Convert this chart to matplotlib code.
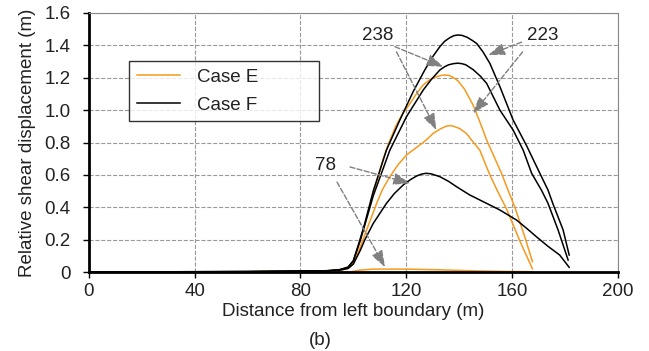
import matplotlib
matplotlib.use('Agg')
import matplotlib.pyplot as plt

plt.rcParams['font.family'] = ['Liberation Sans', 'DejaVu Sans']

# case E (orange) curves
e1_x = [0, 60, 90, 95, 98, 100, 102.5, 104.3, 107.5, 111.3, 113, 116, 118.5, 121.4, 124, 126.4, 129, 131.4, 133, 134.6, 136, 137.5, 139.6, 142, 145.3, 148, 150.4, 153, 156, 158.5, 161, 164.8, 167.7]
e1_y = [0, 0.002, 0.006, 0.012, 0.025, 0.06, 0.19, 0.29, 0.48, 0.7, 0.78, 0.9, 0.975, 1.04, 1.105, 1.155, 1.19, 1.206, 1.214, 1.217, 1.215, 1.205, 1.18, 1.13, 1.03, 0.92, 0.815, 0.72, 0.61, 0.505, 0.403, 0.218, 0.064]
e2_x = [0, 60, 90, 95, 98, 100, 102.5, 105, 108.8, 111, 113.8, 117, 120.1, 123.9, 126.4, 128.5, 130.2, 133, 135, 136.5, 138, 140.3, 142.8, 144.7, 147.8, 151.6, 154.8, 157.9, 163, 167.7]
e2_y = [0, 0.002, 0.006, 0.012, 0.022, 0.05, 0.15, 0.26, 0.424, 0.51, 0.589, 0.665, 0.723, 0.77, 0.8, 0.83, 0.857, 0.885, 0.9, 0.905, 0.9, 0.885, 0.855, 0.815, 0.753, 0.6, 0.49, 0.39, 0.19, 0.02]
e3_x = [0, 98.7, 100.5, 102.5, 107.5, 120, 132, 144, 156, 167.7]
e3_y = [0, 0, 0.006, 0.012, 0.018, 0.018, 0.014, 0.008, 0.004, 0.002]

# case F (black) curves
f1_x = [0, 60, 90, 95, 98, 100, 102.5, 104.3, 107.5, 112.5, 117.6, 122.6, 127, 130, 132.7, 134.5, 136.5, 138, 139.5, 141, 143, 145, 146.6, 149, 151.6, 155.4, 160.4, 165.5, 170.5, 173.6, 175.4, 179.3, 181.6]
f1_y = [0, 0.003, 0.008, 0.015, 0.03, 0.07, 0.2, 0.3, 0.5, 0.753, 0.94, 1.114, 1.248, 1.33, 1.392, 1.425, 1.448, 1.46, 1.464, 1.462, 1.45, 1.43, 1.412, 1.36, 1.289, 1.145, 0.939, 0.78, 0.61, 0.506, 0.424, 0.26, 0.105]
f2_x = [0, 60, 90, 95, 98, 100, 102.5, 104.3, 107.5, 113.8, 120.1, 126.4, 129.5, 132.7, 134.5, 136, 137.8, 139.5, 141, 142.5, 145.3, 148, 150.4, 155.4, 160.4, 164.2, 167.4, 171.1, 173.6, 177.4, 181.2]
f2_y = [0, 0.003, 0.008, 0.015, 0.03, 0.07, 0.19, 0.29, 0.47, 0.753, 0.96, 1.124, 1.19, 1.248, 1.268, 1.28, 1.287, 1.29, 1.287, 1.28, 1.25, 1.21, 1.165, 1.0, 0.877, 0.753, 0.61, 0.506, 0.424, 0.26, 0.074]
f3_x = [0, 60, 90, 95, 98, 100, 102.5, 104.3, 107.5, 112.5, 115.5, 118.8, 121.5, 123.9, 125.8, 127.6, 129.5, 132.7, 136, 139, 144, 147.8, 151.5, 155.4, 161.7, 165.5, 169.2, 173.5, 178, 181.6]
f3_y = [0, 0.002, 0.006, 0.012, 0.022, 0.05, 0.13, 0.198, 0.3, 0.424, 0.485, 0.537, 0.57, 0.593, 0.605, 0.61, 0.606, 0.589, 0.56, 0.527, 0.476, 0.445, 0.415, 0.383, 0.321, 0.27, 0.218, 0.16, 0.105, 0.029]

orange = '#f59a1f'
fs = 13.5

fig = plt.figure(figsize=(6.49, 3.51), dpi=100)
ax = fig.add_axes([0.137, 0.225, 0.815, 0.738])

ax.plot(e1_x, e1_y, color=orange, lw=1.1, label='Case E')
ax.plot(e2_x, e2_y, color=orange, lw=1.1)
ax.plot(e3_x, e3_y, color=orange, lw=1.1)
ax.plot(f1_x, f1_y, color='black', lw=1.1, label='Case F')
ax.plot(f2_x, f2_y, color='black', lw=1.1)
ax.plot(f3_x, f3_y, color='black', lw=1.1)

ax.set_xlim(0, 200)
ax.set_ylim(0, 1.6)
ax.set_xticks([0, 40, 80, 120, 160, 200])
ax.set_yticks([0, 0.2, 0.4, 0.6, 0.8, 1.0, 1.2, 1.4, 1.6])
ax.set_yticklabels(['0', '0.2', '0.4', '0.6', '0.8', '1.0', '1.2', '1.4', '1.6'])
ax.tick_params(labelsize=fs, direction='out', length=4, width=1, colors='black', labelcolor='#222222')
ax.tick_params(axis='x', pad=4)
ax.tick_params(axis='y', pad=9)
ax.grid(True, color='#999999', linestyle='--', lw=0.8)

for s in ['top', 'right']:
    ax.spines[s].set_color('#888888')
    ax.spines[s].set_linewidth(0.8)
for s in ['left', 'bottom']:
    ax.spines[s].set_color('black')
    ax.spines[s].set_linewidth(2)

ax.set_xlabel('Distance from left boundary (m)', fontsize=fs, color='#222222', labelpad=2)
ax.set_ylabel('Relative shear displacement (m)', fontsize=fs, color='#222222', labelpad=6)
fig.text(0.493, 0.031, '(b)', ha='center', va='center', fontsize=fs, color='#222222')

leg = ax.legend(loc='upper left', bbox_to_anchor=(0.076, 0.537, 0.359, 0.278), mode='expand',
                fontsize=fs, frameon=True, fancybox=False, handlelength=2.3, handletextpad=0.9,
                borderpad=0.4, labelspacing=0.6, borderaxespad=0)
leg.get_frame().set_edgecolor('black')
leg.get_frame().set_linewidth(1)
for t in leg.get_texts():
    t.set_color('#222222')

arrow = dict(arrowstyle='-|>,head_length=0.5,head_width=0.18', color='#808080', linestyle='--',
             lw=1, mutation_scale=20, shrinkA=0, shrinkB=0)

ax.text(109.3, 1.464, '238', fontsize=fs, ha='center', va='center', color='#222222')
ax.annotate('', xy=(134, 1.268), xytext=(115.7, 1.392), arrowprops=arrow)
ax.annotate('', xy=(131.4, 0.877), xytext=(116.3, 1.36), arrowprops=arrow)

ax.text(171.6, 1.464, '223', fontsize=fs, ha='center', va='center', color='#222222')
ax.annotate('', xy=(151, 1.34), xytext=(163.6, 1.42), arrowprops=arrow)
ax.annotate('', xy=(145.3, 0.98), xytext=(164, 1.36), arrowprops=arrow)

ax.text(89.6, 0.66, '78', fontsize=fs, ha='center', va='center', color='#222222')
ax.annotate('', xy=(121.4, 0.548), xytext=(98.7, 0.649), arrowprops=arrow)
ax.annotate('', xy=(112, 0.03), xytext=(93.8, 0.556), arrowprops=arrow)

fig.savefig('out.png', dpi=100)
